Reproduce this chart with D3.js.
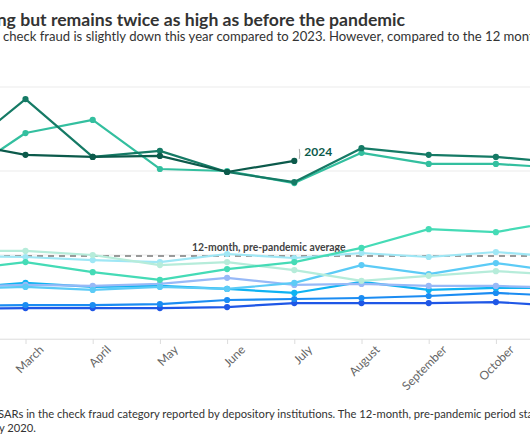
<!DOCTYPE html>
<html>
<head>
<meta charset="utf-8">
<script src="https://cdn.jsdelivr.net/npm/d3@7"></script>
<style>
  html, body { margin: 0; padding: 0; background: #fff; }
  svg { display: block; overflow: hidden; font-family: Lato, "Open Sans", sans-serif; }
</style>
</head>
<body>
<svg id="chart" width="530" height="442"></svg>
<script>
// ---------------- data (monthly check-fraud SARs, thousands) ----------------
const months = ["January","February","March","April","May","June","July","August","September","October","November","December"];
const years  = ["2014","2015","2016","2017","2018","2019","2020","2021","2022","2023","2024"];
const v2014 = [8.6, 8.9, 9.2, 9.2, 9.2, 9.5, 10.7, 10.7, 10.7, 11.0, 9.8, 10.1];
const v2015 = [9.5, 9.8, 10.1, 10.1, 10.4, 11.6, 11.9, 12.2, 12.8, 13.7, 12.8, 13.1];
const v2016 = [15.5, 15.2, 16.7, 15.5, 15.8, 14.9, 13.7, 17.0, 14.6, 15.2, 15.2, 15.5];
const v2017 = [15.8, 15.5, 16.1, 15.8, 16.4, 18.2, 16.1, 16.4, 15.8, 15.8, 15.2, 15.5];
const v2018 = [15.2, 14.9, 15.5, 14.6, 15.5, 14.9, 16.7, 22.0, 19.3, 22.6, 19.9, 20.5];
const v2019 = [25.0, 24.7, 24.4, 23.5, 22.9, 25.3, 24.1, 25.6, 24.4, 25.9, 24.4, 24.7];
const v2020 = [25.9, 26.2, 26.2, 25.0, 22.0, 22.9, 20.5, 17.3, 18.8, 20.2, 19.0, 19.9];
const v2021 = [19.9, 20.5, 22.9, 19.9, 17.6, 20.8, 22.9, 27.1, 32.7, 31.8, 35.4, 36.9];
const v2022 = [45.8, 47.9, 61.3, 65.2, 50.6, 50.0, 46.4, 55.4, 52.1, 52.1, 50.9, 50.3];
const v2023 = [56.2, 55.1, 71.4, 54.2, 56.0, 49.7, 46.7, 56.8, 54.8, 54.2, 52.4, 53.3];
const v2024 = [56.8, 58.6, 54.8, 54.2, 54.5, 49.7, 53.0];
const seriesValues = [v2014, v2015, v2016, v2017, v2018, v2019, v2020, v2021, v2022, v2023, v2024];
const colors = ["#1f57e6","#1b8cf2","#0fb3f2","#98b9f7","#5ccbf6","#9fe7f5","#b6ecda","#45dbb6","#33bf9f","#157a65","#0c5a4b"];
const yTicks = [0, 25, 50, 75];
const prePandemicAvg = 24.7;

const titleText = "Check fraud is declining but remains twice as high as before the pandemic";
const subtitlePre = "The number of SARs related to";
const subtitleText = "check fraud is slightly down this year compared to 2023. However, compared to the 12 months before the pandemic, it remains about twice as high.";
const notePre = "Note: Data include";
const noteLine1 = "SARs in the check fraud category reported by depository institutions. The 12-month, pre-pandemic period starts March 2019 and ends";
const noteLine2Pre = "Februar";
const noteLine2 = "y 2020.";

// ---------------- chart ----------------
const svg = d3.select("#chart");
const x = d3.scalePoint().domain(months).range([-108.9, 630.3]).padding(0);
const y = d3.scaleLinear().domain([0, 75]).range([339, 87]);

// title / subtitle (the chart is shown cropped, so they start left of the frame)
svg.append("text").attr("x", 405).attr("y", 26)
  .attr("text-anchor", "end").attr("font-size", 17.6).attr("font-weight", 700)
  .attr("fill", "#333").text(titleText);
svg.append("text").attr("x", -3).attr("y", 41).attr("text-anchor", "end")
  .attr("font-size", 13.1).attr("fill", "#333").text(subtitlePre);
svg.append("text").attr("x", 3).attr("y", 41)
  .attr("font-size", 13.1).attr("fill", "#333").text(subtitleText);

// gridlines
const grid = svg.append("g");
grid.selectAll("line").data(yTicks).join("line")
  .attr("x1", -150).attr("x2", 700)
  .attr("y1", d => y(d)).attr("y2", d => y(d))
  .attr("stroke", "#ebebeb").attr("stroke-width", 1);

// y axis labels (outside the visible crop on the left)
svg.append("g").attr("transform", "translate(-125,0)")
  .call(d3.axisLeft(y).tickValues(yTicks).tickFormat(d => d + "K").tickSize(0))
  .call(g => g.select(".domain").remove());

// x axis
const xAxis = svg.append("g").attr("transform", `translate(0,${y(0)})`)
  .call(d3.axisBottom(x).tickSize(5).tickPadding(3));
xAxis.select(".domain").attr("stroke", "#e6e6e6");
xAxis.selectAll(".tick line").attr("stroke", "#dcdcdc");
xAxis.selectAll(".tick text")
  .attr("font-family", "Lato, sans-serif").attr("font-size", 12).attr("fill", "#666")
  .attr("text-anchor", "end")
  .attr("transform", "translate(6,-1) rotate(-45)")
  .attr("dx", "0").attr("dy", "0.8em");

// pre-pandemic average
svg.append("line").attr("x1", -150).attr("x2", 700)
  .attr("y1", y(prePandemicAvg)).attr("y2", y(prePandemicAvg))
  .attr("stroke", "#7a7a7a").attr("stroke-width", 1.4).attr("stroke-dasharray", "6,5");
svg.append("text").attr("x", 192).attr("y", y(prePandemicAvg) - 5)
  .attr("font-size", 10.4).attr("font-weight", 700).attr("fill", "#444")
  .text("12-month, pre-pandemic average");

// lines
const line = d3.line().x((d, i) => x(months[i])).y(d => y(d));
const series = years.map((yr, k) => ({ year: yr, values: seriesValues[k], color: colors[k] }));
const sg = svg.append("g").selectAll("g").data(series).join("g");
sg.append("path").attr("d", d => line(d.values))
  .attr("fill", "none").attr("stroke", d => d.color).attr("stroke-width", 2.2)
  .attr("stroke-linejoin", "round");
sg.selectAll("circle").data(d => d.values.map((v, i) => ({ v, i, c: d.color }))).join("circle")
  .attr("cx", d => x(months[d.i])).attr("cy", d => y(d.v)).attr("r", 3.1)
  .attr("fill", d => d.c);

// 2024 label
const last = v2024.length - 1;
const lx = x(months[last]), ly = y(v2024[last]);
svg.append("path")
  .attr("d", `M${lx + 5},${ly - 2} Q${lx + 6},${ly - 7} ${lx + 5},${ly - 12}`)
  .attr("fill", "none").attr("stroke", "#aaa").attr("stroke-width", 1);
svg.append("text").attr("x", lx + 10).attr("y", ly - 5)
  .attr("font-size", 12).attr("font-weight", 700).attr("fill", "#0c5a4b").text("2024");

// note
svg.append("text").attr("x", -6).attr("y", 418).attr("text-anchor", "end")
  .attr("font-size", 11.2).attr("fill", "#333").text(notePre);
svg.append("text").attr("x", -2).attr("y", 418)
  .attr("font-size", 11.2).attr("fill", "#333").text(noteLine1);
svg.append("text").attr("x", -1).attr("y", 432).attr("text-anchor", "end")
  .attr("font-size", 11.2).attr("fill", "#333").text(noteLine2Pre);
svg.append("text").attr("x", -1).attr("y", 432)
  .attr("font-size", 11.2).attr("fill", "#333").text(noteLine2);
</script>
</body>
</html>
